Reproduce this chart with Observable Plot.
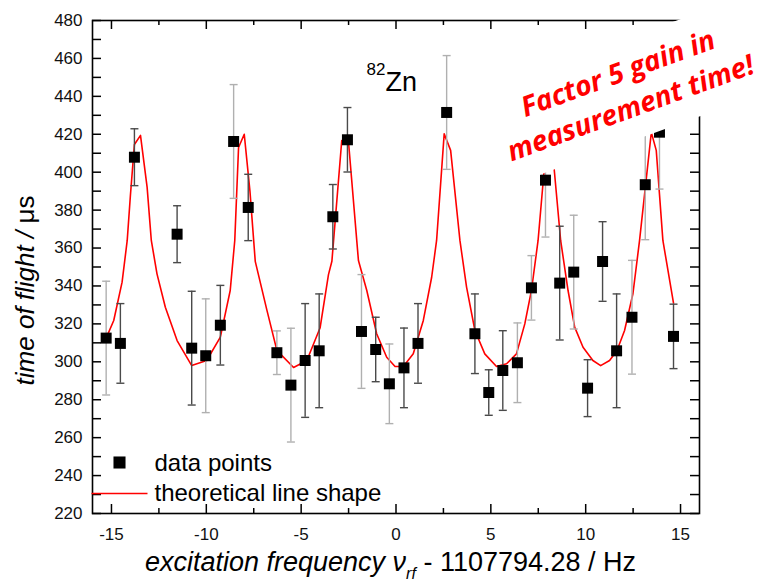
<!DOCTYPE html>
<html><head><meta charset="utf-8">
<script src="https://cdn.jsdelivr.net/npm/d3@7"></script>
<script src="https://cdn.jsdelivr.net/npm/@observablehq/plot@0.6"></script>
<style>body{margin:0;background:#fff;} svg{display:block;}</style>
</head><body>
<script>
// measured data points
const freq   = [-15.28,-14.53,-13.79,-11.54,-10.77,-10.03,-9.26,-8.56,-7.79,-6.28,-5.54,-4.79,-4.05,-3.33,-2.56,-1.82,-1.07,-0.35,0.42,1.16,2.67,4.16,4.89,5.63,6.40,7.14,7.88,8.63,9.37,10.10,10.89,11.63,12.44,13.14,13.89,14.63];
const tof    = [312.5,309.7,407.9,367.3,307.2,303.2,319.3,416.2,381.4,304.8,287.7,300.7,305.8,376.5,417.1,316.0,306.5,288.4,296.8,309.7,431.5,314.8,283.8,295.4,299.5,339.0,395.8,341.5,347.3,286.1,352.9,305.8,323.5,393.4,421.1,313.4];
const tofErr = [30,21,15,15,30,30,21,30,17.5,11.5,30,30,30,17,17,30,17,21,21,21,30,21,12,21,21,17,30,30,30,15,21,30,30,29,30,17];
const errSet = ["a","b","b","b","b","a","b","a","b","a","a","b","b","b","b","a","b","a","b","b","a","b","b","b","a","a","a","b","a","b","b","b","a","a","a","b"];

// theoretical line shape
const curveFreq = [-15.28,-14.88,-14.44,-14.17,-14.00,-13.79,-13.47,-13.12,-12.90,-12.60,-12.16,-11.54,-10.77,-9.98,-9.26,-8.74,-8.50,-8.30,-8.00,-7.70,-7.42,-6.80,-6.28,-5.40,-4.70,-4.00,-3.56,-3.38,-2.86,-2.51,-1.98,-1.54,-1.02,-0.49,-0.05,0.39,0.91,1.44,1.88,2.14,2.54,2.88,3.37,3.72,4.16,4.68,5.30,5.83,6.35,6.79,7.14,7.49,7.81,8.10,8.33,8.68,9.07,9.42,9.86,10.38,10.79,11.26,11.65,12.05,12.49,12.84,13.46,13.72,14.07,14.63];
const curveTof  = [312.5,321.8,342,364,388,414.6,419.4,392,364,346.4,328.8,311.2,298,300.7,313,337.6,364,413,420,390,353,327,306,297,300.7,318,346,353,416.7,416.7,353.4,337.6,314.8,302.4,297.5,297.5,304.2,321.8,344.6,364,420.2,411.5,364,339.4,316.5,304.2,297.5,299,304.2,320,337.6,364,401,420,402.6,364,337.6,318.3,307.7,300.7,298,300.7,306,316.5,335.9,364,421,411.5,364,331];

const xTicks = [-15,-10,-5,0,5,10,15];
const xMinorTicks = [-12.5,-7.5,-2.5,2.5,7.5,12.5];
const yTicks = [220,240,260,280,300,320,340,360,380,400,420,440,460,480];
const yMinorTicks = [230,250,270,290,310,330,350,370,390,410,430,450,470];
const legendLabels = ["data points","theoretical line shape"];
const isotope = ["82","Zn"];
const annotation = ["Factor 5 gain in\nmeasurement time!"];
const xLabel = ["excitation frequency ν - 1107794.28 / Hz"];
const yLabel = ["time of flight / μs"];

const points = freq.map((x,i)=>({x, y: tof[i], e: tofErr[i], set: errSet[i]}));
const curve = curveFreq.map((x,i)=>({x, y: curveTof[i]}));

const W = 759, H = 588, ML = 92, MR = 60, MT = 20, MB = 75;
const IW = W-ML-MR, IH = H-MT-MB;
const capSymbol = {draw(ctx){ctx.moveTo(-4,0);ctx.lineTo(4,0);}};
const legendLine = {draw(ctx){ctx.moveTo(-28,0);ctx.lineTo(28,0);}};
const font = "'Liberation Sans', Arial, sans-serif";

const svg = Plot.plot({
  width: W, height: H,
  marginLeft: ML, marginRight: MR, marginTop: MT, marginBottom: MB,
  x: {domain: [-16,16]},
  y: {domain: [220,480]},
  color: {domain: ["a","b"], range: ["#b0b0b0","#4a4a4a"]},
  style: {fontFamily: font, fontSize: "17px", color: "#000", background: "#fff"},
  marks: [
    Plot.line(curve, {x:"x", y:"y", stroke:"#ff0000", strokeWidth:1.6}),
    Plot.ruleX(points, {x:"x", y1: d=>d.y-d.e, y2: d=>d.y+d.e, stroke:"set", strokeWidth:1.4}),
    Plot.dot(points, {x:"x", y: d=>d.y+d.e, symbol: capSymbol, stroke:"set", fill:"none", strokeWidth:1.4}),
    Plot.dot(points, {x:"x", y: d=>d.y-d.e, symbol: capSymbol, stroke:"set", fill:"none", strokeWidth:1.4}),
    Plot.dot(points, {x:"x", y:"y", symbol:"square", r:6.2, fill:"#000", stroke:"none"}),
    // inward ticks
    Plot.ruleX(xTicks, {x: d=>d, insetTop: IH-9, stroke:"#000", strokeWidth:1.5}),
    Plot.ruleX(xMinorTicks, {x: d=>d, insetTop: IH-5, stroke:"#000", strokeWidth:1.5}),
    Plot.ruleX(xTicks, {x: d=>d, insetBottom: IH-9, stroke:"#000", strokeWidth:1.5}),
    Plot.ruleX(xMinorTicks, {x: d=>d, insetBottom: IH-5, stroke:"#000", strokeWidth:1.5}),
    Plot.ruleY(yTicks.concat(yMinorTicks), {y: d=>d, insetRight: IW-9, stroke:"#000", strokeWidth:1.5}),
    Plot.ruleY(yTicks.concat(yMinorTicks), {y: d=>d, insetLeft: IW-9, stroke:"#000", strokeWidth:1.5}),
    Plot.frame({stroke:"#000", strokeWidth:1.6}),
    Plot.axisX(xTicks, {tickSize:0, tickPadding:14, tickFormat: d=>String(d), fontSize:17, label:null, fill:"#111"}),
    Plot.axisY(yTicks, {tickSize:0, tickPadding:10, tickFormat: d=>String(d), fontSize:17, label:null, fill:"#111"}),
    // isotope label
    Plot.text([isotope[0]], {text: d=>d, frameAnchor:"top-left", dx:274, dy:48.6, textAnchor:"start", lineAnchor:"middle", fontSize:17, fill:"#000"}),
    Plot.text([isotope[1]], {text: d=>d, frameAnchor:"top-left", dx:293, dy:61.4, textAnchor:"start", lineAnchor:"middle", fontSize:27, fill:"#000"}),
    // legend
    Plot.dot([legendLabels[0]], {frameAnchor:"bottom-left", dx:27, dy:-51, symbol:"square", r:6.8, fill:"#000", stroke:"none"}),
    Plot.dot([legendLabels[1]], {frameAnchor:"bottom-left", dx:27, dy:-20, symbol: legendLine, stroke:"#ff0000", fill:"none", strokeWidth:1.6}),
    Plot.text([legendLabels[0]], {text:d=>d, frameAnchor:"bottom-left", dx:62, dy:-50, textAnchor:"start", lineAnchor:"middle", fontSize:24, fill:"#000"}),
    Plot.text([legendLabels[1]], {text:d=>d, frameAnchor:"bottom-left", dx:62, dy:-19.7, textAnchor:"start", lineAnchor:"middle", fontSize:24, fill:"#000"}),
    // axis labels
    Plot.text(xLabel, {text:d=>d, frameAnchor:"bottom", dx:-5.5, dy:48.7, textAnchor:"middle", lineAnchor:"middle", fontSize:27, fill:"#000"}),
    Plot.text(yLabel, {text:d=>d, frameAnchor:"left", dx:-67, dy:23.5, rotate:-90, textAnchor:"middle", lineAnchor:"middle", fontSize:26, fill:"#000"}),
    // annotation
    Plot.text(annotation, {text:d=>d, frameAnchor:"top-right", dx:-76, dy:68, rotate:-20, textAnchor:"middle", lineAnchor:"middle", fontSize:28, lineHeight:1.32,
      fontWeight:"bold", fontStyle:"italic", fontFamily:"'Open Sans', sans-serif", fill:"#ff0000"})
  ]
});
document.body.appendChild(svg);

const findText = (pred) => d3.select(svg).selectAll("text").filter(function(){ return pred(this.textContent); });

// rich text for the axis labels
const xl = findText(t => t === xLabel[0]);
xl.text("");
xl.append("tspan").attr("font-style","italic").text("excitation frequency ");
xl.append("tspan").attr("font-style","italic").text("ν");
xl.append("tspan").attr("font-style","italic").attr("font-size",16).attr("dy",8).text("rf");
xl.append("tspan").attr("dy",-8).text(" - 1107794.28 / Hz");

const yl = findText(t => t === yLabel[0]);
yl.text("");
yl.append("tspan").attr("font-style","italic").text("time of flight / ");
yl.append("tspan").text("μs");

// white text box behind annotation
const annNode = findText(t => t.startsWith("Factor")).node();
if (annNode) {
  const bb = annNode.getBBox();
  const boxH = 98, padX = 14, shift = 2.5;
  d3.select(annNode.parentNode).insert("rect", () => annNode)
    .attr("x", bb.x - padX).attr("y", bb.y + bb.height/2 - boxH/2 + shift)
    .attr("width", bb.width + 2*padX).attr("height", boxH)
    .attr("fill", "#fff")
    .attr("transform", annNode.getAttribute("transform"));
}
</script>
</body></html>
